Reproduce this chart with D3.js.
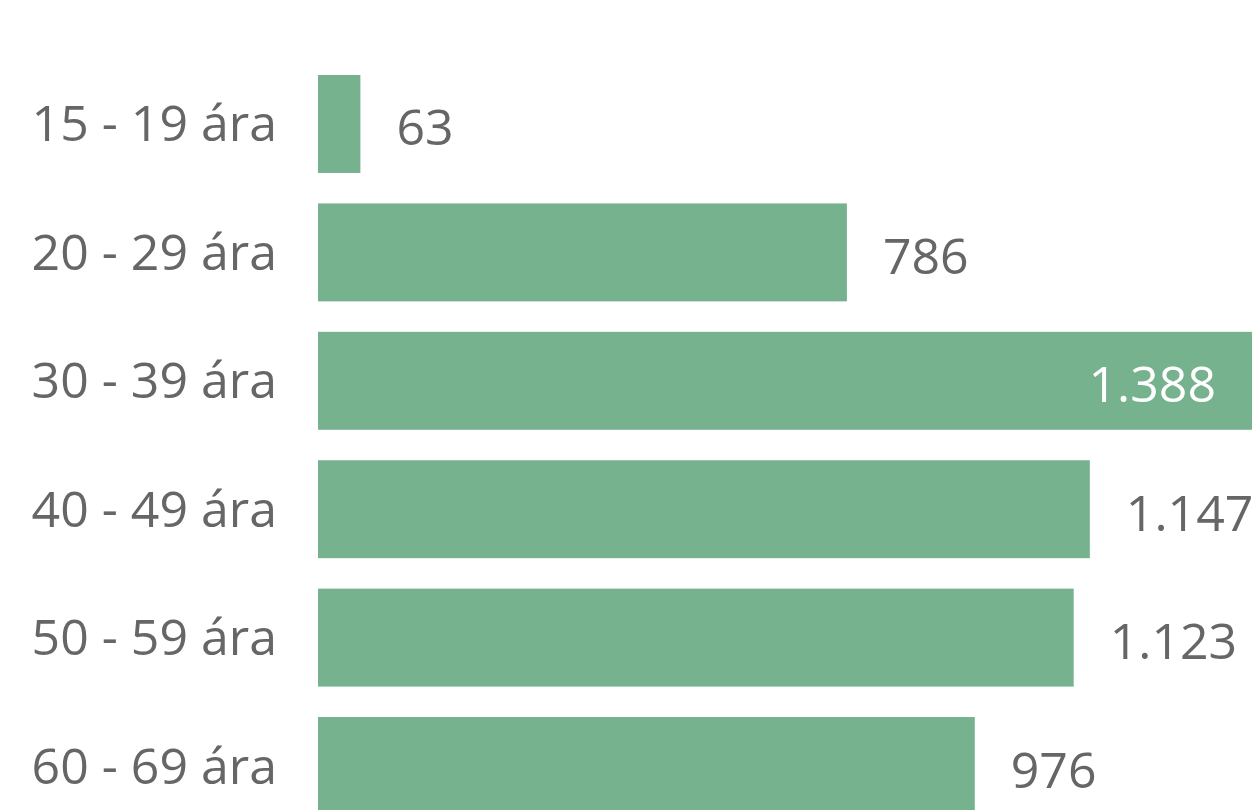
<!DOCTYPE html>
<html>
<head>
<meta charset="utf-8">
<script src="https://cdn.jsdelivr.net/npm/d3@7"></script>
<style>
  body { margin: 0; background: #fff; }
  svg text { font-family: "Open Sans", "Noto Sans", sans-serif; }
</style>
</head>
<body>
<div id="chart"></div>
<script>
const width = 1256, height = 810;

// Age groups and counts.
const ageGroups = ['15 - 19 ára', '20 - 29 ára', '30 - 39 ára', '40 - 49 ára', '50 - 59 ára', '60 - 69 ára'];
const counts = [63, 786, 1388, 1147, 1123, 976];

const data = ageGroups.map((g, i) => ({group: g, value: counts[i]}));

const svg = d3.select('#chart').append('svg')
    .attr('width', width)
    .attr('height', height);

const x = d3.scaleLinear()
    .domain([0, d3.max(counts)])
    .range([318, 1252]);

const y = d3.scaleBand()
    .domain(ageGroups)
    .range([75, 815])
    .paddingInner(0.237)
    .paddingOuter(0);

const fmt = d3.formatLocale({decimal: ',', thousands: '.', grouping: [3], currency: ['', ' kr.']}).format(',d');

// Category labels on the left
svg.append('g')
  .selectAll('text')
    .data(data)
  .enter().append('text')
    .attr('x', 277)
    .attr('y', d => y(d.group) + y.bandwidth() / 2)
    .attr('dy', '0.35em')
    .attr('text-anchor', 'end')
    .style('font-size', '50px')
    .style('fill', '#666666')
    .text(d => d.group);

svg.append('g')
  .selectAll('rect')
    .data(data)
  .enter().append('rect')
    .attr('x', x(0))
    .attr('y', d => y(d.group))
    .attr('width', d => x(d.value) - x(0))
    .attr('height', y.bandwidth())
    .style('fill', '#77b28f');

// Value labels: outside the bar, except the longest which sits inside
const maxVal = d3.max(counts);
svg.append('g')
  .selectAll('text')
    .data(data)
  .enter().append('text')
    .attr('x', d => d.value === maxVal ? x(d.value) - 36 : x(d.value) + 36)
    .attr('y', d => y(d.group) + y.bandwidth() / 2 + 4)
    .attr('dy', '0.35em')
    .attr('text-anchor', d => d.value === maxVal ? 'end' : 'start')
    .style('font-size', '50px')
    .style('fill', d => d.value === maxVal ? '#ffffff' : '#666666')
    .text(d => fmt(d.value));
</script>
</body>
</html>
